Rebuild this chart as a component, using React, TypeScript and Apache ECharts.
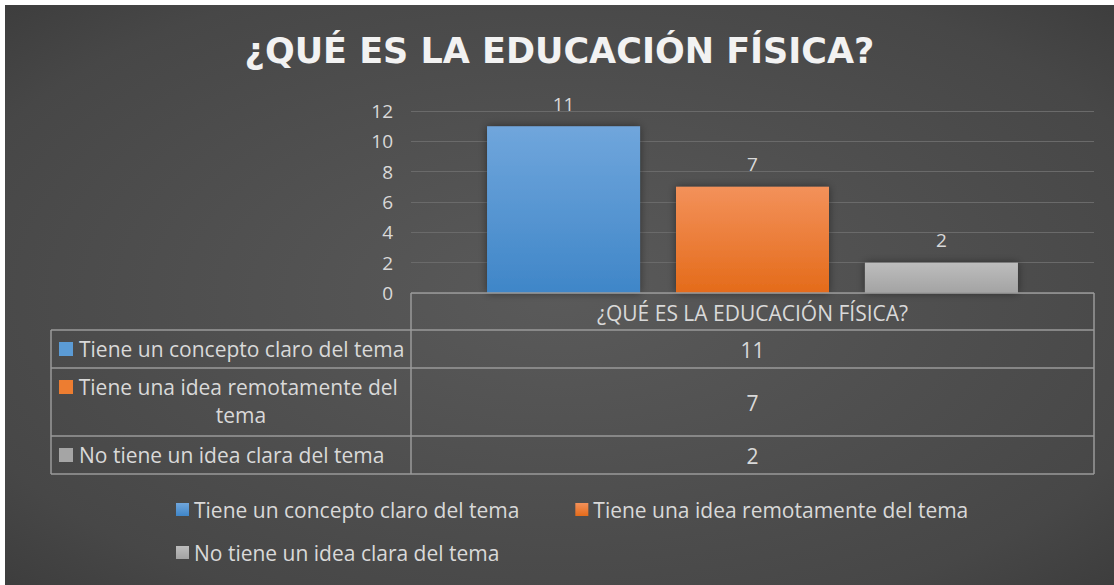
import React, { useEffect, useRef } from "react";
import * as echarts from "echarts";

const titleText = "¿QUÉ ES LA EDUCACIÓN FÍSICA?";
const categoryLabels = ["¿QUÉ ES LA EDUCACIÓN FÍSICA?"];
const seriesNames = [
  "Tiene un concepto claro del tema",
  "Tiene una idea remotamente del tema",
  "No tiene un idea clara del tema",
];
const seriesValues = [11, 7, 2];
const yMin = 0;
const yMax = 12;
const yInterval = 2;

const gradients = [
  ["#70a6dc", "#3f86c8"],
  ["#f3915a", "#e46b1a"],
  ["#bdbdbd", "#a3a3a3"],
];
const legendColors = ["#5b9bd5", "#ed7d31", "#a5a5a5"];

const FONT = "Open Sans";
const FS = 21;
const AFS = 19;
const TXT = "#d9d9d9";
const LINE = "#9a9a9a";

export default function App() {
  const ref = useRef<HTMLDivElement>(null);
  useEffect(() => {
    const chart = echarts.init(ref.current!, null, { renderer: "svg" });
    // chart coordinates = page - 5
    const gridL = 406, gridR = 1089, gridTop = 106, gridBottom = 288;
    const rowY = [288, 325, 363, 431, 469];
    const colL = 46;
    const g: any[] = [];
    g.push({ type: "line", shape: { x1: gridL, y1: rowY[0], x2: gridR, y2: rowY[0] }, style: { stroke: LINE, lineWidth: 1.5 }, z: 10 });
    for (let i = 1; i < rowY.length; i++) {
      g.push({ type: "line", shape: { x1: colL, y1: rowY[i], x2: gridR, y2: rowY[i] }, style: { stroke: LINE, lineWidth: 1.5 }, z: 10 });
    }
    g.push({ type: "line", shape: { x1: gridL, y1: rowY[0], x2: gridL, y2: rowY[4] }, style: { stroke: LINE, lineWidth: 1.5 }, z: 10 });
    g.push({ type: "line", shape: { x1: gridR, y1: rowY[0], x2: gridR, y2: rowY[4] }, style: { stroke: LINE, lineWidth: 1.5 }, z: 10 });
    g.push({ type: "line", shape: { x1: colL, y1: rowY[1], x2: colL, y2: rowY[4] }, style: { stroke: LINE, lineWidth: 1.5 }, z: 10 });
    g.push({
      type: "text", x: (gridL + gridR) / 2, y: (rowY[0] + rowY[1]) / 2 + 1,
      style: { text: categoryLabels[0], fill: TXT, font: `${FS}px '${FONT}'`, align: "center", verticalAlign: "middle" }, z: 10,
    });
    const firstLineY = [344, 382, 450];
    seriesNames.forEach((name, i) => {
      const top = rowY[i + 1], bot = rowY[i + 2];
      g.push({ type: "rect", shape: { x: 54, y: firstLineY[i] - 7, width: 14, height: 14 }, style: { fill: legendColors[i] }, z: 10 });
      if (i === 1) {
        g.push({
          type: "text", x: 236, y: firstLineY[i] - 14,
          style: { text: name, fill: TXT, font: `${FS}px '${FONT}'`, align: "center", verticalAlign: "top", width: 335, overflow: "break", lineHeight: 28 }, z: 10,
        });
      } else {
        g.push({
          type: "text", x: 74, y: firstLineY[i],
          style: { text: name, fill: TXT, font: `${FS}px '${FONT}'`, align: "left", verticalAlign: "middle" }, z: 10,
        });
      }
      g.push({
        type: "text", x: (gridL + gridR) / 2, y: (top + bot) / 2 + 1,
        style: { text: String(seriesValues[i]), fill: TXT, font: `${FS}px '${FONT}'`, align: "center", verticalAlign: "middle" }, z: 10,
      });
    });

    chart.setOption({
      animation: false,
      backgroundColor: {
        type: "radial", x: 0.5, y: 0.5, r: 1.05,
        colorStops: [
          { offset: 0, color: "#5a5a5a" },
          { offset: 0.55, color: "#474747" },
          { offset: 1, color: "#242424" },
        ],
      },
      title: {
        text: titleText, left: "center", top: 23,
        textStyle: { color: "#f2f2f2", fontFamily: "DejaVu Sans", fontWeight: "bold", fontSize: 35 },
      },
      grid: { left: gridL, right: 1109 - gridR, top: gridTop, bottom: 580 - gridBottom, containLabel: false },
      legend: [
        {
          data: [seriesNames[0], seriesNames[1]], left: 166, top: 489, icon: "rect", itemWidth: 13, itemHeight: 13, itemGap: 56,
          textStyle: { color: TXT, fontFamily: FONT, fontSize: FS }, selectedMode: false,
        },
        {
          data: [seriesNames[2]], left: 166, top: 532, icon: "rect", itemWidth: 13, itemHeight: 13,
          textStyle: { color: TXT, fontFamily: FONT, fontSize: FS }, selectedMode: false,
        },
      ],
      xAxis: {
        type: "category", data: categoryLabels,
        axisLine: { show: false }, axisTick: { show: false }, axisLabel: { show: false },
      },
      yAxis: {
        type: "value", min: yMin, max: yMax, interval: yInterval,
        axisLine: { show: false }, axisTick: { show: false },
        axisLabel: { color: TXT, fontFamily: FONT, fontSize: AFS, margin: 18 },
        splitLine: { lineStyle: { color: "#6a6a6a", width: 1 } },
      },
      series: seriesNames.map((name, i) => ({
        type: "bar", name, data: [seriesValues[i]],
        barWidth: 153, barGap: "23.5%",
        itemStyle: {
          color: { type: "linear", x: 0, y: 0, x2: 0, y2: 1, colorStops: [{ offset: 0, color: gradients[i][0] }, { offset: 1, color: gradients[i][1] }] },
          shadowBlur: 8, shadowColor: "rgba(0,0,0,0.45)",
        },
        label: { show: true, position: "top", distance: 13, color: TXT, fontFamily: FONT, fontSize: AFS },
      })),
      graphic: g,
    });
    return () => chart.dispose();
  }, []);
  return (
    <div style={{ position: "absolute", left: 0, top: 0, width: 1114, height: 585, background: "#ffffff" }}>
      <div ref={ref} style={{ position: "absolute", left: 5, top: 5, width: 1109, height: 580 }} />
    </div>
  );
}
